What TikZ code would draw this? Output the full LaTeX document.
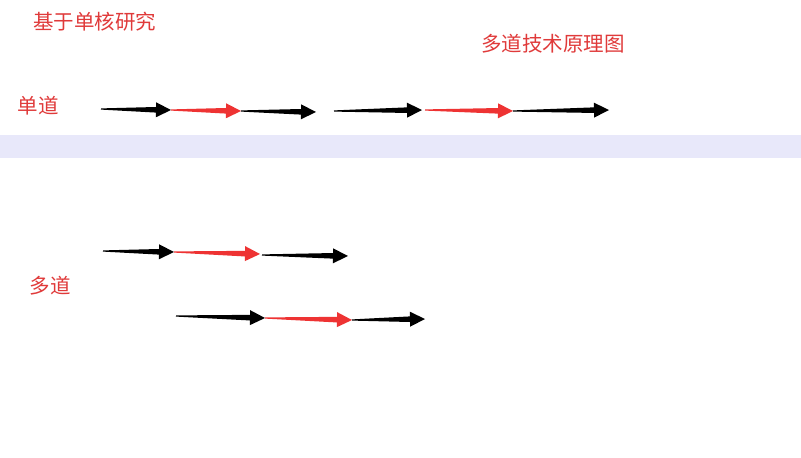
\documentclass[tikz,border=0pt]{standalone}
\usepackage{fontspec}
\setmainfont{Noto Sans CJK SC}
\usetikzlibrary{calc}
\definecolor{lbl}{HTML}{E03A3A}
\definecolor{band}{HTML}{E8E8FA}
\definecolor{redarr}{HTML}{EE3333}
\newcommand\tarr[3]{%
  \coordinate (h) at ($(#3)!15pt!(#2)$);
  \fill[#1] ($(#2)!0.6pt!90:(#3)$) -- ($(h)!2.8pt!90:(#3)$) -- ($(h)!7.5pt!90:(#3)$) -- (#3)
    -- ($(h)!7.5pt!-90:(#3)$) -- ($(h)!2.8pt!-90:(#3)$) -- ($(#2)!0.6pt!-90:(#3)$) -- cycle;}
\begin{document}
\begin{tikzpicture}[x=1pt,y=-1pt,lab/.style={text=lbl,font=\fontsize{20.5}{22}\selectfont,inner sep=0pt}]
\fill[white] (0,0) rectangle (801,458);
\useasboundingbox (0,0) rectangle (801,458);
\fill[band] (0,135) rectangle (801,158);
\node[lab] (t1) at (95,22) {基于单核研究};
\node[lab] (t2) at (553,44) {多道技术原理图};
\node[lab] (t3) at (38,106) {单道};
\node[lab] (t4) at (50,286) {多道};
\coordinate (a1) at (101,109); \coordinate (a2) at (171,110); \coordinate (a3) at (241,111); \coordinate (a4) at (316,112);
\coordinate (b1) at (334,111); \coordinate (b2) at (422,110); \coordinate (b3) at (425,110); \coordinate (b4) at (513,111); \coordinate (b5) at (609,110);
\coordinate (c1) at (103,251); \coordinate (c2) at (174,252); \coordinate (c3) at (260,254); \coordinate (c4) at (262,255); \coordinate (c5) at (348,256);
\coordinate (d1) at (176,316); \coordinate (d2) at (265,318); \coordinate (d3) at (352,320); \coordinate (d4) at (425,319);
\tarr{black}{a1}{a2} \tarr{redarr}{a2}{a3} \tarr{black}{a3}{a4}
\tarr{black}{b1}{b2} \tarr{redarr}{b3}{b4} \tarr{black}{b4}{b5}
\tarr{black}{c1}{c2} \tarr{redarr}{c2}{c3} \tarr{black}{c4}{c5}
\tarr{black}{d1}{d2} \tarr{redarr}{d2}{d3} \tarr{black}{d3}{d4}
\end{tikzpicture}
\end{document}
